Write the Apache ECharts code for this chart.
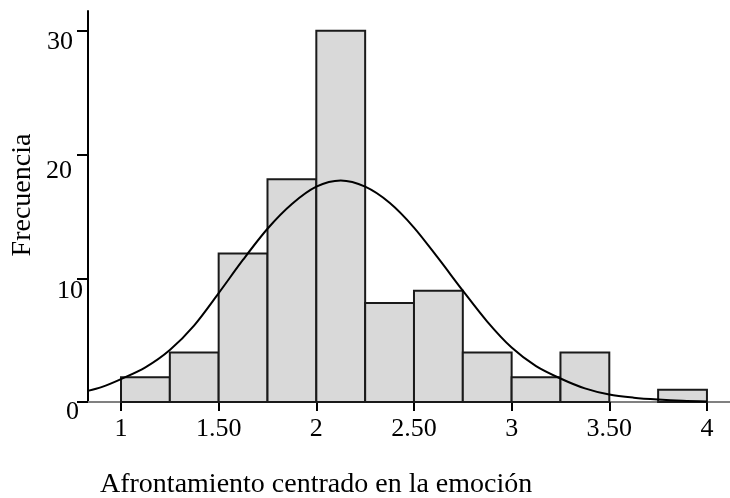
<!DOCTYPE html>
<html>
<head>
<meta charset="utf-8">
<script src="https://cdn.jsdelivr.net/npm/echarts@6/dist/echarts.min.js"></script>
<style>
html,body{margin:0;padding:0;background:#fff;}
#c{width:730px;height:498px;}
</style>
</head>
<body>
<div id="c"></div>
<script>
// Histogram bins (bin start values, width 0.25) and frequencies
const binStarts = [1.00, 1.25, 1.50, 1.75, 2.00, 2.25, 2.50, 2.75, 3.00, 3.25, 3.50, 3.75];
const binEnds   = [1.25, 1.50, 1.75, 2.00, 2.25, 2.50, 2.75, 3.00, 3.25, 3.50, 3.75, 4.00];
const counts    = [2, 4, 12, 18, 30, 8, 9, 4, 2, 4, 0, 1];

// Normal curve
const curveX = [0.83, 0.90, 1.00, 1.125, 1.25, 1.375, 1.50, 1.625, 1.75, 1.875, 2.00, 2.125, 2.25, 2.375, 2.50, 2.625, 2.75, 2.875, 3.00, 3.125, 3.25, 3.375, 3.50, 3.625, 3.75, 3.875, 4.00];
const curveY = [0.9, 1.2, 1.85, 2.8, 4.2, 6.2, 8.8, 11.5, 14.0, 16.0, 17.4, 17.9, 17.4, 16.1, 14.1, 11.6, 9.0, 6.5, 4.4, 2.9, 1.9, 1.1, 0.6, 0.35, 0.2, 0.1, 0.05];

// Axis ticks
const xTicks = [1, 1.5, 2, 2.5, 3, 3.5, 4];
const xTickLabels = ['1', '1.50', '2', '2.50', '3', '3.50', '4'];
const yTicks = [0, 10, 20, 30];
const yTickLabels = ['0', '10', '20', '30'];

const xTitle = 'Afrontamiento centrado en la emoción';
const yTitle = 'Frecuencia';

const FONT = '"Liberation Serif", "DejaVu Serif", serif';

const chart = echarts.init(document.getElementById('c'), null, {renderer: 'canvas'});

const yRich = {
  l0:  {fontFamily: FONT, fontSize: 26, color: '#000', padding: [20, 4, 0, 0]},
  l10: {fontFamily: FONT, fontSize: 26, color: '#000', padding: [26, 0, 0, 0]},
  l20: {fontFamily: FONT, fontSize: 26, color: '#000', padding: [34, 11, 0, 0]},
  l30: {fontFamily: FONT, fontSize: 26, color: '#000', padding: [22, 10, 0, 0]}
};

chart.setOption({
  animation: false,
  backgroundColor: '#fff',
  grid: {left: 88, right: 0, top: 11, bottom: 96, containLabel: false},
  xAxis: {
    type: 'value',
    min: 0.831,
    max: 4.118,
    axisLine: {show: true, lineStyle: {color: '#808080', width: 2}},
    axisTick: {show: true, customValues: xTicks, length: 9, lineStyle: {color: '#000', width: 2}},
    axisLabel: {
      customValues: xTicks,
      margin: 14,
      fontFamily: FONT, fontSize: 26, color: '#000',
      formatter: function (v) {
        const i = xTicks.findIndex(t => Math.abs(t - v) < 1e-6);
        return i >= 0 ? xTickLabels[i] : '';
      }
    },
    splitLine: {show: false}
  },
  yAxis: {
    type: 'value',
    min: 0,
    max: 31.6,
    axisLine: {show: true, lineStyle: {color: '#000', width: 2}},
    axisTick: {show: true, customValues: yTicks, length: 11, lineStyle: {color: '#000', width: 2}},
    axisLabel: {
      customValues: yTicks,
      margin: 5,
      formatter: function (v) {
        const i = yTicks.findIndex(t => Math.abs(t - v) < 1e-6);
        if (i < 0) return '';
        return '{l' + yTicks[i] + '|' + yTickLabels[i] + '}';
      },
      rich: yRich
    },
    splitLine: {show: false}
  },
  graphic: [
    {
      type: 'text', left: 100, top: 471,
      style: {text: xTitle, font: '28px ' + FONT, fill: '#000'}
    },
    {
      type: 'text', x: 23, y: 195, rotation: Math.PI / 2,
      style: {text: yTitle, font: '28px ' + FONT, fill: '#000', align: 'center', verticalAlign: 'middle'}
    }
  ],
  series: [
    {
      type: 'custom',
      z: 2,
      data: binStarts.map((s, i) => [s, binEnds[i], counts[i]]),
      encode: {x: [0, 1], y: 2},
      renderItem: function (params, api) {
        const x0 = api.value(0), x1 = api.value(1), v = api.value(2);
        if (!v) return null;
        const p0 = api.coord([x0, v]);
        const p1 = api.coord([x1, 0]);
        return {
          type: 'rect',
          shape: {x: p0[0], y: p0[1], width: p1[0] - p0[0], height: p1[1] - p0[1]},
          style: {fill: '#d9d9d9', stroke: '#1a1a1a', lineWidth: 2}
        };
      }
    },
    {
      type: 'line',
      z: 3,
      smooth: 0.3,
      showSymbol: false,
      symbol: 'none',
      data: curveX.map((x, i) => [x, curveY[i]]),
      lineStyle: {color: '#000', width: 2}
    }
  ]
});
</script>
</body>
</html>
